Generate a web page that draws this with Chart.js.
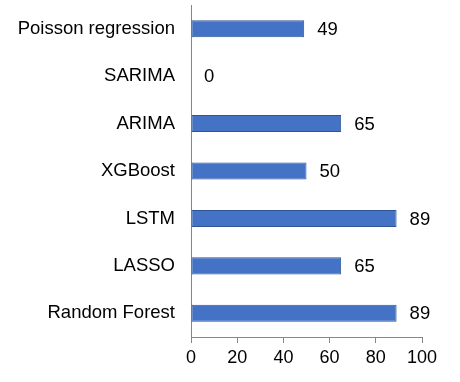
<!DOCTYPE html>
<html>
<head>
<meta charset="utf-8">
<script src="https://cdn.jsdelivr.net/npm/chart.js@4/dist/chart.umd.min.js"></script>
<style>
html,body{margin:0;padding:0;background:#fff;}
#wrap{width:460px;height:382px;position:relative;}
</style>
</head>
<body>
<div id="wrap"><canvas id="c" width="460" height="382"></canvas></div>
<script>
const categories = ["Poisson regression", "SARIMA", "ARIMA", "XGBoost", "LSTM", "LASSO", "Random Forest"];
const values = [49, 0, 65, 50, 89, 65, 89];
const xTicks = [0, 20, 40, 60, 80, 100];

const FONT = "'Liberation Sans', Arial, sans-serif";

const valueLabels = {
  id: 'valueLabels',
  afterDatasetsDraw(chart) {
    const ctx = chart.ctx;
    const meta = chart.getDatasetMeta(0);
    ctx.save();
    ctx.font = "18.5px " + FONT;
    ctx.fillStyle = '#000';
    ctx.textAlign = 'left';
    ctx.textBaseline = 'middle';
    meta.data.forEach((bar, i) => {
      ctx.fillText(String(values[i]), bar.x + 13, bar.y + 1);
    });
    ctx.restore();
  }
};

new Chart(document.getElementById('c'), {
  type: 'bar',
  data: {
    labels: categories,
    datasets: [{
      data: values,
      backgroundColor: '#4472C4',
      borderColor: '#2F5597',
      borderWidth: 1,
      borderSkipped: false,
      barPercentage: 0.36,
      categoryPercentage: 1
    }]
  },
  options: {
    indexAxis: 'y',
    responsive: false,
    animation: false,
    layout: { padding: { left: 0, right: 38, top: 5, bottom: 0 } },
    plugins: { legend: { display: false }, tooltip: { enabled: false } },
    scales: {
      x: {
        min: 0, max: 100,
        afterBuildTicks(scale) { scale.ticks = xTicks.map(v => ({ value: v })); },
        afterFit(scale) { scale.height = 45; scale.paddingLeft = 0; scale.paddingRight = 0; },
        grid: { drawOnChartArea: false, drawTicks: true, tickLength: 6, color: '#868686' },
        border: { display: true, color: '#868686', width: 1 },
        ticks: { color: '#000', font: { family: FONT, size: 18 }, padding: 4, maxRotation: 0 }
      },
      y: {
        afterFit(scale) { scale.width = 191; scale.paddingTop = 0; scale.paddingBottom = 0; },
        grid: { display: false, drawTicks: false },
        border: { display: true, color: '#868686', width: 1 },
        ticks: { color: '#000', font: { family: FONT, size: 18.5 }, padding: 16 }
      }
    }
  },
  plugins: [valueLabels]
});
</script>
</body>
</html>
